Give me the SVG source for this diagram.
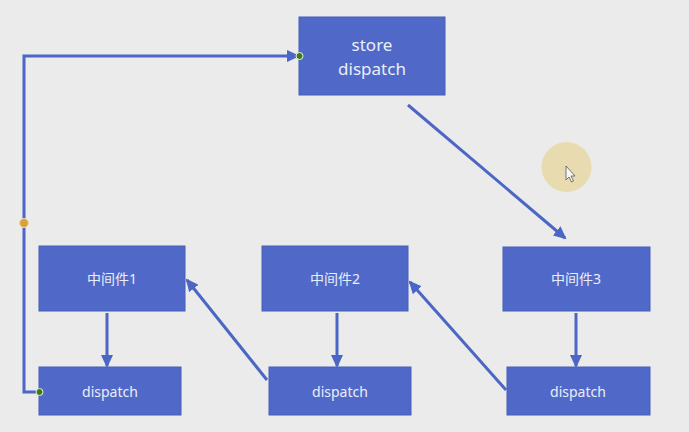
<svg xmlns="http://www.w3.org/2000/svg" width="689" height="432" viewBox="0 0 689 432">
  <style>
    .box { fill: #5069c8; stroke: #4660b9; stroke-width: 1; }
    .lbl { font-family: "Noto Sans", "Noto Sans CJK SC", sans-serif; fill: #eaeef9; text-anchor: middle; }
    .big { font-size: 17px; }
    .sm { font-size: 14px; }
    .conn { stroke: #4b66c5; stroke-width: 3; fill: none; }
  </style>
  <defs>
    <marker id="ah" markerUnits="userSpaceOnUse" markerWidth="13" markerHeight="12" refX="11" refY="6" orient="auto">
      <path d="M0,0 L13,6 L0,12 z" fill="#4b66c5"/>
    </marker>
  </defs>
  <rect width="689" height="432" fill="#ebebec"/>
  <g id="connectors">
    <path class="conn" d="M39,392 H24 V56 H298" marker-end="url(#ah)"/>
    <line class="conn" x1="408" y1="105" x2="565" y2="238" marker-end="url(#ah)"/>
    <line class="conn" x1="107" y1="313" x2="107" y2="366" marker-end="url(#ah)"/>
    <line class="conn" x1="337" y1="313" x2="337" y2="366" marker-end="url(#ah)"/>
    <line class="conn" x1="576" y1="313" x2="576" y2="366" marker-end="url(#ah)"/>
    <line class="conn" x1="506" y1="390" x2="410" y2="282" marker-end="url(#ah)"/>
    <line class="conn" x1="267" y1="380" x2="187" y2="280" marker-end="url(#ah)"/>
  </g>
  <g id="store">
    <rect class="box" x="299" y="17" width="146" height="78"/>
    <text class="lbl big" x="372" y="51">store</text>
    <text class="lbl big" x="372" y="75">dispatch</text>
  </g>
  <g id="mw1">
    <rect class="box" x="39" y="246" width="146" height="65"/>
    <text class="lbl sm" x="112" y="284">中间件1</text>
  </g>
  <g id="mw2">
    <rect class="box" x="262" y="246" width="146" height="65"/>
    <text class="lbl sm" x="335" y="284">中间件2</text>
  </g>
  <g id="mw3">
    <rect class="box" x="503" y="247" width="147" height="64"/>
    <text class="lbl sm" x="576" y="284">中间件3</text>
  </g>
  <g id="d1">
    <rect class="box" x="39" y="367" width="142" height="48"/>
    <text class="lbl sm" x="110" y="397">dispatch</text>
  </g>
  <g id="d2">
    <rect class="box" x="269" y="367" width="142" height="48"/>
    <text class="lbl sm" x="340" y="397">dispatch</text>
  </g>
  <g id="d3">
    <rect class="box" x="507" y="367" width="143" height="48"/>
    <text class="lbl sm" x="578" y="397">dispatch</text>
  </g>
  <g id="handles">
    <circle cx="299.5" cy="56" r="3.5" fill="#3d7a1c" stroke="#e4f0d8" stroke-width="1"/>
    <circle cx="39.5" cy="392" r="3.5" fill="#3d7a1c" stroke="#e4f0d8" stroke-width="1"/>
    <circle cx="24" cy="223" r="4.5" fill="#d6a23c" stroke="#f0dcb0" stroke-width="1"/>
  </g>
  <g id="cursor">
    <circle cx="566.5" cy="167" r="25" fill="#e8d9a8" opacity="0.9"/>
    <path d="M566,166 L566,180 L569,177 L571.5,182 L573.5,181 L571,176 L575,176 Z" fill="#f8f8f8" stroke="#555" stroke-width="0.8"/>
  </g>
</svg>
